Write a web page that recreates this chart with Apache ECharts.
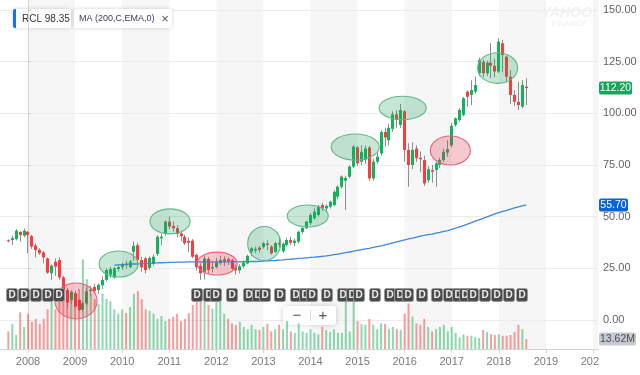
<!DOCTYPE html>
<html><head><meta charset="utf-8">
<script src="https://cdn.jsdelivr.net/npm/echarts@6/dist/echarts.min.js"></script>
<style>html,body{margin:0;padding:0;background:#fff}#c{width:640px;height:375px}</style>
</head><body><div id="c"></div>
<script>
// months are counted from Jan 2008 (= 0); first candle is Aug 2007
const FIRST_MONTH = -5;
const opens = [38.6,38.7,39.2,42.6,40.8,
42.7,40.6,36.0,33.9,32.7,29.8,22.6,28.2,29.0,20.6,14.5,9.7,
13.0,9.7,5.0,8.0,14.0,16.0,14.5,16.8,19.4,22.0,20.5,24.7,
25.6,27.2,25.6,33.0,36.2,29.0,29.8,25.2,27.1,31.9,39.5,41.6,
47.6,45.5,44.4,41.9,40.3,38.3,38.4,31.5,26.1,23.4,29.5,25.0,
25.6,27.5,28.3,29.4,29.0,25.4,24.0,26.0,27.4,33.0,33.6,35.0,
35.3,37.0,35.5,33.0,37.3,33.2,36.3,38.8,37.2,37.9,42.6,44.4,
46.9,49.2,50.8,55.6,54.0,54.8,55.6,59.7,64.5,67.4,69.3,74.2,
83.5,76.6,77.5,83.5,68.5,76.6,80.6,91.0,87.0,92.5,99.5,94.4,
101.0,82.3,75.0,83.0,78.5,77.4,67.7,72.6,72.6,75.0,77.4,81.0,
84.5,94.4,96.8,99.2,110.5,108.9,110.5,119.4,125.0,119.4,124.5,123.0,
120.2,133.9,127.4,117.7,108.9,105.6,103.2,112.9];
const closes = [38.1,39.6,43.2,41.1,43.2,
41.1,35.5,33.9,32.3,30.3,22.9,26.3,25.8,20.6,14.5,8.4,13.7,
6.5,4.8,8.1,13.9,14.6,14.0,17.0,19.4,24.2,24.6,25.0,25.6,
26.6,26.5,28.3,35.9,29.0,25.5,24.2,30.0,30.6,40.3,40.3,47.6,
45.2,44.4,41.6,40.6,37.1,37.4,30.6,25.5,22.6,29.8,24.2,25.6,
27.9,29.0,29.4,28.6,24.8,24.0,26.0,27.8,31.0,34.7,34.4,33.9,
37.2,36.3,32.3,37.2,36.5,36.9,38.7,37.4,38.4,42.7,44.5,47.6,
50.8,52.4,54.8,54.0,55.2,57.2,62.0,64.5,69.4,68.7,74.2,83.9,
75.8,81.4,83.0,68.5,76.6,79.0,91.0,88.3,93.0,99.5,96.8,101.6,
82.3,75.0,82.3,78.3,77.8,66.1,72.9,71.8,75.8,77.4,81.4,82.6,
94.0,97.6,101.6,107.3,108.0,111.3,113.7,125.8,119.4,124.5,123.0,120.2,
134.7,128.2,117.7,108.9,105.6,104.0,113.7,112.2];
const lows = [37.6,36.3,38.5,37.9,40.0,
32.3,34.4,30.3,31.5,27.4,22.4,19.4,21.3,19.4,11.8,5.6,7.8,
6.1,4.4,4.0,7.2,11.8,12.9,12.4,15.0,18.7,20.4,20.0,23.4,
24.2,25.0,25.0,28.6,26.4,23.4,22.5,24.2,26.3,31.0,36.2,40.8,
44.0,42.8,40.0,38.2,36.3,32.8,30.0,24.0,19.4,19.6,22.4,23.0,
25.0,26.6,26.0,26.7,24.2,22.0,22.6,25.2,27.0,30.8,32.3,32.6,
34.5,33.8,31.6,32.6,35.0,32.5,35.5,36.3,35.8,37.0,41.5,44.0,
46.0,48.5,50.0,52.8,52.0,54.0,55.0,58.5,63.5,53.2,68.5,73.5,
74.6,75.0,75.5,67.2,67.5,75.6,79.5,84.0,84.5,91.0,93.0,93.0,
76.6,64.5,73.0,76.5,71.5,64.8,66.5,66.5,64.5,73.5,76.5,79.0,
83.5,93.5,96.0,98.5,103.2,104.0,109.5,118.0,117.5,118.0,117.0,117.5,
119.5,120.0,115.0,104.5,103.5,101.6,102.4,104.0];
const highs = [39.0,40.8,44.0,43.0,44.2,
43.0,41.2,37.1,34.7,33.5,30.3,26.8,29.8,30.3,21.4,15.6,14.4,
14.2,10.2,9.3,15.5,16.5,17.4,17.6,21.0,25.0,25.8,25.6,26.5,
27.8,28.5,29.0,38.0,37.4,30.6,30.5,30.8,31.8,41.0,41.8,48.2,
50.0,47.6,45.8,42.6,41.3,40.0,39.2,32.2,27.5,31.0,30.5,28.0,
30.0,31.0,30.8,30.3,29.6,26.8,27.0,28.8,31.6,35.4,35.5,35.8,
37.8,38.6,36.2,37.8,39.8,37.6,39.8,40.2,39.4,43.2,45.2,48.0,
51.8,54.0,55.6,56.6,56.0,57.8,62.8,65.2,70.0,69.8,75.0,84.6,
84.2,84.5,84.5,84.2,78.0,81.0,91.8,93.0,95.0,101.0,101.5,104.5,
101.6,85.5,86.0,84.5,81.5,79.5,74.5,75.0,76.6,78.5,83.0,87.0,
95.5,98.0,102.5,108.0,111.2,116.0,117.7,127.0,126.0,125.5,134.0,126.5,
136.3,135.5,128.0,121.0,111.3,115.3,116.1,117.0];
// monthly volume, millions of shares
const volumes = [24,34,19,50,30,
48,37,41,34,41,54,65,54,68,82,75,68,
71,82,122,95,75,68,61,75,68,65,54,48,
54,49,57,75,79,68,54,52,48,41,45,38,
41,44,48,38,41,49,60,80,68,72,60,55,
65,65,48,41,35,33,37,30,27,33,27,26,
30,34,24,27,33,27,38,24,22,35,24,22,
27,22,20,30,26,23,27,22,22,68,24,72,
38,34,33,41,33,27,35,34,27,30,27,26,
48,62,44,35,33,41,30,24,27,30,33,24,
30,22,16,20,18,18,16,15,26,23,20,19,
20,18,18,19,23,33,27,13.62];
// MA (200,C,EMA) line, starts Nov 2009
const MA_START = 22;
const maValues = [26.6,26.7,26.8,26.9,27.0,27.1,27.2,27.2,27.3,27.4,27.5,27.6,27.7,27.8,27.9,27.9,
28.0,28.0,28.0,28.1,28.1,28.1,28.1,28.1,28.1,28.1,28.1,28.1,28.1,28.1,28.1,28.1,28.1,
28.2,28.2,28.3,28.3,28.4,28.5,28.6,28.7,28.8,29.0,29.1,29.3,29.4,29.6,29.8,29.9,30.1,
30.3,30.4,30.6,30.8,31.0,31.3,31.6,31.9,32.2,32.6,32.9,33.3,33.7,34.0,34.4,34.7,35.1,
35.5,35.9,36.4,36.8,37.3,37.8,38.3,38.8,39.2,39.6,40.1,40.6,40.9,41.3,41.6,42.0,42.4,
42.9,43.3,43.8,44.4,45.1,45.7,46.4,47.1,47.8,48.5,49.2,49.9,50.6,51.3,52.0,52.6,53.1,
53.7,54.2,54.7,55.2,55.7];
// dividend markers (month position)
const dividendMonths = [-4,-1,2,5,8,
43.1,46.2,48.0,52.0,56.25,58.7,60.5,64.3,68.4,70.7,72.4,76.3,
80.4,82.7,84.4,88.4,92.3,94.9,96.9,100.5,104.2,107.4,109.7,111.5,113.4,116.6,119.6,122.7,125.8];
// highlighted zones: [centre month, centre price, half-width months, half-height price, kind]
const highlightZones = [
 [12.24, 9.2, 5.36, 8.7, 'down'],
 [23.1, 27.1, 4.97, 6.3, 'up'],
 [36.2, 47.7, 5.1, 6.05, 'up'],
 [48.2, 27.3, 5.1, 5.56, 'down'],
 [60.2, 37.0, 4.21, 8.23, 'up'],
 [71.3, 50.3, 5.23, 5.32, 'up'],
 [83.4, 83.7, 6.12, 6.29, 'up'],
 [95.5, 102.6, 6.0, 5.66, 'up'],
 [107.65, 82.0, 5.1, 7.02, 'down'],
 [119.7, 121.9, 5.1, 7.4, 'up']
];
const yearTicks = [0,12,24,36,48,60,72,84,96,108,120,132,144];
const yearLabels = ['2008','2009','2010','2011','2012','2013','2014','2015','2016','2017','2018','2019','2020'];
const shadedYears = [[0,12],[24,36],[48,60],[72,84],[96,108],[120,132],[144,156]];

// ---- layout / style ----
const X_MIN = -7.136, X_MAX = 145.28;
const VOL_MAX = 475;
const DIV_LEVEL = 12.1;
const UP = '#12b35d', DOWN = '#fb3b3e', WICK = '#8e8e8e';
const VOL_UP = 'rgba(26,179,94,0.5)', VOL_DOWN = 'rgba(250,60,60,0.5)';
const FONT = 'Liberation Sans, Arial, sans-serif';

const chart = echarts.init(document.getElementById('c'), null, {renderer:'canvas'});

const candleData = opens.map((o,i)=>[FIRST_MONTH+i, o, closes[i], lows[i], highs[i]]);
const volData = volumes.map((v,i)=>({value:[FIRST_MONTH+i, v], itemStyle:{color: closes[i]>=opens[i]?VOL_UP:VOL_DOWN}}));
const maData = maValues.map((v,j)=>[MA_START+j, v]);

function crisp(x){ return Math.round(x-0.5)+0.5; }

const option = {
  animation:false,
  grid:[
    {left:0, right:42, top:10, bottom:55},
    {left:0, right:42, top:0, bottom:26}
  ],
  xAxis:[
    {gridIndex:0, type:'value', min:X_MIN, max:X_MAX, show:false},
    {gridIndex:1, type:'value', min:X_MIN, max:X_MAX,
     axisLine:{show:true, lineStyle:{color:'#d4d4d4'}},
     axisTick:{show:true, customValues:yearTicks, length:4, lineStyle:{color:'#d4d4d4'}},
     axisLabel:{customValues:yearTicks, formatter:v=>yearLabels[yearTicks.indexOf(v)], color:'#7a7a7a', fontSize:11, margin:7, fontFamily:FONT},
     splitLine:{show:false}}
  ],
  yAxis:[
    {gridIndex:0, type:'value', position:'right', min:0, max:150, interval:25,
     axisLine:{show:false},
     axisTick:{show:true, length:3, lineStyle:{color:'#cfcfcf'}},
     axisLabel:{formatter:v=>v.toFixed(2), color:'#5f6368', fontSize:11, margin:5, fontFamily:FONT},
     splitLine:{show:true, lineStyle:{color:'#ececec'}}},
    {gridIndex:1, type:'value', position:'right', min:0, max:VOL_MAX,
     axisLine:{show:true, lineStyle:{color:'#d4d4d4'}}, axisTick:{show:false}, axisLabel:{show:false}, splitLine:{show:false}}
  ],
  series:[
    {type:'custom', name:'bands', xAxisIndex:1, yAxisIndex:1, z:-1, silent:true,
     data:shadedYears, encode:{x:[0,1]},
     renderItem:(params, api)=>{
       const cs = params.coordSys;
       const a = api.coord([api.value(0),0])[0], b = Math.min(api.coord([api.value(1),0])[0], cs.x+cs.width);
       return {type:'rect', shape:{x:a, y:cs.y, width:b-a, height:cs.height}, style:{fill:'#f6f6f6'}};
     }},
    {type:'bar', name:'Volume', xAxisIndex:1, yAxisIndex:1, barWidth:2, z:1, silent:true, data:volData},
    {type:'custom', name:'RCL', xAxisIndex:0, yAxisIndex:0, z:3, silent:true, clip:false,
     data:candleData, encode:{x:0, y:[1,2,3,4]},
     renderItem:(params, api)=>{
       const m=api.value(0), o=api.value(1), c=api.value(2), l=api.value(3), h=api.value(4);
       const pO=api.coord([m,o]), pC=api.coord([m,c]), pL=api.coord([m,l]), pH=api.coord([m,h]);
       const x = crisp(pO[0]);
       const top=Math.min(pO[1],pC[1]), bot=Math.max(pO[1],pC[1]);
       return {type:'group', children:[
         {type:'line', shape:{x1:x, y1:pH[1], x2:x, y2:pL[1]}, style:{stroke:WICK, lineWidth:1}},
         {type:'rect', shape:{x:x-1.5, y:top, width:3, height:Math.max(1,bot-top)}, style:{fill:c>=o?UP:DOWN}}
       ]};
     }},
    {type:'line', name:'MA', xAxisIndex:0, yAxisIndex:0, z:4, silent:true, showSymbol:false, symbol:'none',
     data:maData, lineStyle:{color:'#3f88dc', width:1.3}},
    {type:'custom', name:'zones', xAxisIndex:0, yAxisIndex:0, z:5, silent:true, clip:false,
     data:highlightZones.map(z=>[z[0],z[1],z[2],z[3], z[4]==='up'?1:0]), encode:{x:0,y:1},
     renderItem:(params, api)=>{
       const c = api.coord([api.value(0), api.value(1)]);
       const s = api.size([api.value(2), api.value(3)]);
       const up = api.value(4)===1;
       return {type:'ellipse', shape:{cx:c[0], cy:c[1], rx:s[0], ry:s[1]},
         style:{fill: up?'rgba(30,160,90,0.25)':'rgba(220,40,60,0.25)', stroke: up?'#62b88c':'#e2677f', lineWidth:1.1}};
     }},
    {type:'custom', name:'dividends', xAxisIndex:0, yAxisIndex:0, z:6, silent:true, clip:false,
     data:dividendMonths.map(m=>[m, DIV_LEVEL]), encode:{x:0,y:1},
     renderItem:(params, api)=>{
       const p = api.coord([api.value(0), api.value(1)]);
       const x = Math.round(p[0]), y = Math.round(p[1]);
       return {type:'group', children:[
         {type:'rect', shape:{x:x-5.5, y:y-6.5, width:11, height:13, r:2}, style:{fill:'#4b4b4b', stroke:'#9a9a9a', lineWidth:1}},
         {type:'text', style:{text:'D', x:x, y:y+0.5, align:'center', verticalAlign:'middle', fill:'#ededed', font:'bold 10px '+FONT}}
       ]};
     }}
  ]
};
chart.setOption(option);

// value tags on the right axis
const lastClose = closes[closes.length-1];
const lastMA = maValues[maValues.length-1];
const lastVol = volumes[volumes.length-1];
const yClose = chart.convertToPixel({yAxisIndex:0}, lastClose);
const yMA = chart.convertToPixel({yAxisIndex:0}, lastMA);
const yVol = chart.convertToPixel({yAxisIndex:1}, lastVol);
function tag(y, text, bg, fg, w){
  return {type:'group', x:599, y:Math.round(y)-6.5, z:100, children:[
    {type:'rect', shape:{x:0,y:0,width:w,height:13,r:2}, style:{fill:bg}},
    {type:'text', style:{text:text, x:w/2, y:7, align:'center', verticalAlign:'middle', fill:fg, font:'10.5px '+FONT}}
  ]};
}
chart.setOption({graphic:[
  // clip the last year label at the axis edge
  {type:'rect', shape:{x:599, y:351, width:41, height:24}, style:{fill:'#fff'}, z:90},
  tag(yClose, lastClose.toFixed(2), '#17a55a', '#fff', 33),
  tag(yMA, lastMA.toFixed(2), '#0b63d8', '#fff', 29),
  tag(yVol, lastVol.toFixed(2)+'M', '#c6c9cf', '#4a4d52', 37),
  // watermark
  {type:'text', z:50, style:{text:'YAHOO!', x:569, y:13, align:'center', verticalAlign:'middle', fill:'#f1f1f1', font:'bold italic 14px '+FONT}},
  {type:'text', z:50, style:{text:'FINANCE', x:569, y:24, align:'center', verticalAlign:'middle', fill:'#efefef', font:'8px '+FONT}},
  // legend boxes
  {type:'group', x:13, y:9, z:100, children:[
    {type:'rect', shape:{x:0,y:0,width:58,height:19,r:2}, style:{fill:'#fff', shadowBlur:4, shadowColor:'rgba(0,0,0,0.18)'}},
    {type:'rect', shape:{x:0,y:0,width:3,height:19,r:[2,0,0,2]}, style:{fill:'#1a6ff0'}},
    {type:'text', style:{text:'RCL 98.35', x:9, y:10, verticalAlign:'middle', fill:'#333', font:'10px '+FONT}}
  ]},
  {type:'group', x:74, y:9, z:100, children:[
    {type:'rect', shape:{x:0,y:0,width:98,height:19,r:2}, style:{fill:'#fff', shadowBlur:4, shadowColor:'rgba(0,0,0,0.18)'}},
    {type:'text', style:{text:'MA (200,C,EMA,0)', x:5, y:10, verticalAlign:'middle', fill:'#3f3a5e', font:'9px '+FONT}},
    {type:'text', style:{text:'×', x:91, y:10, align:'center', verticalAlign:'middle', fill:'#555', font:'13px '+FONT}}
  ]},
  // zoom control
  {type:'group', x:283, y:306, z:100, children:[
    {type:'rect', shape:{x:0,y:0,width:53,height:19,r:3}, style:{fill:'#fff', shadowBlur:5, shadowColor:'rgba(0,0,0,0.2)'}},
    {type:'text', style:{text:'−', x:14, y:9.5, align:'center', verticalAlign:'middle', fill:'#555', font:'15px '+FONT}},
    {type:'line', shape:{x1:27.5,y1:4,x2:27.5,y2:15}, style:{stroke:'#dcdcdc', lineWidth:1}},
    {type:'text', style:{text:'+', x:40, y:9.5, align:'center', verticalAlign:'middle', fill:'#555', font:'15px '+FONT}}
  ]}
]});
</script>
</body></html>
